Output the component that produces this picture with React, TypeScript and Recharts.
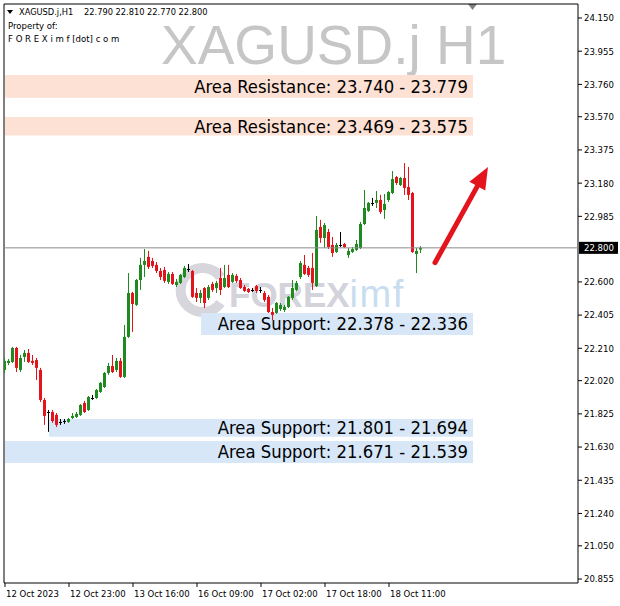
import React from 'react';
import { ComposedChart, Bar, XAxis, YAxis, ReferenceArea, ReferenceLine } from 'recharts';

// ---------- data ----------
const OPENS = [
  22.083, 22.124, 22.130, 22.212, 22.083, 22.159, 22.183, 22.136, 22.141, 22.083,
  21.907, 21.836, 21.836, 21.819, 21.778, 21.783, 21.778, 21.801, 21.807, 21.819,
  21.889, 21.848, 21.918, 21.918, 21.954, 21.983, 22.065, 22.106, 22.083, 22.136,
  22.042, 22.277, 22.535, 22.465, 22.611, 22.700, 22.747, 22.723, 22.700, 22.664,
  22.670, 22.600, 22.647, 22.582, 22.594, 22.629, 22.676, 22.664, 22.535, 22.506,
  22.564, 22.506, 22.588, 22.564, 22.623, 22.570, 22.641, 22.600, 22.635, 22.611,
  22.570, 22.559, 22.553, 22.576, 22.553, 22.535, 22.512, 22.423, 22.418, 22.441,
  22.435, 22.453, 22.506, 22.553, 22.629, 22.700, 22.682, 22.682, 22.576, 22.923,
  22.858, 22.893, 22.817, 22.776, 22.817, 22.823, 22.758, 22.776, 22.788, 22.799,
  22.940, 23.017, 23.064, 23.064, 23.081, 23.022, 23.081, 23.122, 23.216, 23.169,
  23.210, 23.157, 23.122, 22.764, 22.790,
];
const HIGHS = [
  22.153, 22.147, 22.218, 22.218, 22.171, 22.200, 22.206, 22.171, 22.153, 22.095,
  21.918, 21.848, 21.848, 21.830, 21.795, 21.795, 21.801, 21.830, 21.836, 21.883,
  21.901, 21.930, 21.936, 21.971, 22.012, 22.071, 22.124, 22.171, 22.153, 22.153,
  22.347, 22.652, 22.541, 22.617, 22.741, 22.793, 22.782, 22.741, 22.717, 22.682,
  22.688, 22.658, 22.658, 22.617, 22.647, 22.694, 22.705, 22.670, 22.564, 22.553,
  22.570, 22.582, 22.600, 22.606, 22.682, 22.700, 22.700, 22.652, 22.647, 22.623,
  22.582, 22.564, 22.564, 22.582, 22.570, 22.547, 22.523, 22.447, 22.482, 22.476,
  22.465, 22.517, 22.611, 22.606, 22.723, 22.758, 22.694, 22.770, 22.987, 22.964,
  22.946, 22.911, 22.864, 22.829, 22.893, 22.829, 22.799, 22.805, 22.846, 22.952,
  23.140, 23.069, 23.093, 23.134, 23.111, 23.116, 23.134, 23.251, 23.222, 23.216,
  23.298, 23.275, 23.128, 22.799, 22.810,
];
const LOWS = [
  22.065, 22.112, 22.124, 22.071, 22.071, 22.130, 22.124, 22.112, 22.024, 21.895,
  21.760, 21.719, 21.772, 21.748, 21.760, 21.766, 21.772, 21.795, 21.801, 21.813,
  21.830, 21.842, 21.907, 21.913, 21.948, 21.977, 22.054, 22.065, 22.071, 22.036,
  22.036, 22.271, 22.306, 22.459, 22.553, 22.629, 22.676, 22.682, 22.652, 22.611,
  22.594, 22.588, 22.582, 22.570, 22.588, 22.623, 22.658, 22.506, 22.482, 22.476,
  22.447, 22.494, 22.541, 22.535, 22.523, 22.564, 22.564, 22.594, 22.594, 22.559,
  22.541, 22.535, 22.541, 22.535, 22.535, 22.482, 22.418, 22.376, 22.412, 22.429,
  22.423, 22.447, 22.494, 22.547, 22.617, 22.641, 22.629, 22.553, 22.570, 22.829,
  22.799, 22.793, 22.747, 22.770, 22.805, 22.799, 22.741, 22.770, 22.782, 22.793,
  22.934, 23.011, 23.046, 23.034, 22.999, 22.970, 23.069, 23.116, 23.169, 23.163,
  23.111, 23.081, 22.770, 22.652, 22.770,
];
const CLOSES = [
  22.136, 22.136, 22.212, 22.095, 22.153, 22.183, 22.130, 22.124, 22.095, 21.907,
  21.813, 21.836, 21.783, 21.760, 21.778, 21.783, 21.795, 21.813, 21.825, 21.877,
  21.836, 21.924, 21.918, 21.965, 22.007, 22.065, 22.106, 22.071, 22.136, 22.042,
  22.277, 22.535, 22.470, 22.611, 22.700, 22.723, 22.688, 22.694, 22.664, 22.629,
  22.606, 22.647, 22.588, 22.600, 22.641, 22.682, 22.676, 22.512, 22.506, 22.535,
  22.476, 22.570, 22.553, 22.594, 22.553, 22.623, 22.570, 22.641, 22.606, 22.564,
  22.547, 22.541, 22.553, 22.547, 22.553, 22.494, 22.423, 22.406, 22.476, 22.465,
  22.453, 22.512, 22.564, 22.594, 22.711, 22.647, 22.641, 22.594, 22.905, 22.858,
  22.934, 22.805, 22.770, 22.817, 22.817, 22.805, 22.782, 22.793, 22.823, 22.940,
  23.034, 23.064, 23.064, 23.081, 23.011, 23.058, 23.128, 23.204, 23.181, 23.210,
  23.152, 23.111, 22.776, 22.782, 22.800,
];

const TIME_TICKS = [0, 16, 32, 48, 64, 80, 96];
const TIME_LABELS = ['12 Oct 2023', '12 Oct 23:00', '13 Oct 16:00', '16 Oct 09:00', '17 Oct 02:00', '17 Oct 18:00', '18 Oct 11:00'];
const PRICE_TICKS = [24.15, 23.955, 23.76, 23.57, 23.375, 23.18, 22.985, 22.6, 22.405, 22.21, 22.02, 21.825, 21.63, 21.435, 21.24, 21.05, 20.855];
const LAST_PRICE = 22.8;

const ZONE_LABELS = [
  'Area Resistance: 23.740 - 23.779',
  'Area Resistance: 23.469 - 23.575',
  'Area Support: 22.378 - 22.336',
  'Area Support: 21.801 - 21.694',
  'Area Support: 21.671 - 21.539',
];
const ZONE_LOW = [23.682, 23.460, 22.288, 21.690, 21.537];
const ZONE_HIGH = [23.815, 23.569, 22.418, 21.795, 21.666];
const ZONE_START = [0, 0, 49, 11, 0];
const ZONE_END = [117, 117, 117, 117, 117];
const ZONE_KIND = ['res', 'res', 'sup', 'sup', 'sup'];

const ARROW_BARS = [107.5, 120.75];
const ARROW_PRICES = [22.713, 23.275];

const X_DOMAIN = [-0.25, 143.25];
const Y_DOMAIN = [20.8316, 24.2322];

const SYMBOL = 'XAGUSD.j,H1';
const OHLC_TEXT = '22.790 22.810 22.770 22.800';
const WATERMARK = 'XAGUSD.j H1';

// ---------- styles ----------
const GREEN = '#1f8a1f';
const RED = '#e3141c';
const SMALL_FONT = "'DejaVu Sans Condensed', 'Liberation Sans', sans-serif";
const BIG_FONT = "'Liberation Sans', Arial, sans-serif";

const data = OPENS.map((o, i) => ({ i, o, h: HIGHS[i], l: LOWS[i], c: CLOSES[i], hl: [LOWS[i], HIGHS[i]] }));

function Candle(props: any) {
  const { x, y, width, height, payload } = props;
  if (x == null || y == null || !payload) return null;
  const top = Math.min(y, y + height);
  const bot = Math.max(y, y + height);
  const { o, h, l, c } = payload;
  const span = h - l;
  const py = (v: number) => (span > 0 ? top + ((h - v) / span) * (bot - top) : top);
  const cx = Math.floor(x + width / 2) + 0.5;
  const doji = Math.abs(c - o) < 0.0005;
  const color = doji ? '#000' : c > o ? GREEN : RED;
  const yo = py(o);
  const yc = py(c);
  const bt = Math.min(yo, yc);
  const bb = Math.max(yo, yc);
  return (
    <g>
      <line x1={cx} x2={cx} y1={top} y2={bot} stroke={color} strokeWidth={1} />
      {doji ? (
        <line x1={cx - 1.5} x2={cx + 1.5} y1={Math.round(yo) + 0.5} y2={Math.round(yo) + 0.5} stroke={color} strokeWidth={1} />
      ) : (
        <rect x={cx - 1.5} y={bt} width={3} height={Math.max(1, bb - bt)} fill={color} />
      )}
    </g>
  );
}

function ZoneLabel(props: any) {
  const vb = props.viewBox || {};
  return (
    <text
      x={vb.x + vb.width - 5}
      y={vb.y + vb.height / 2}
      dominantBaseline="central"
      textAnchor="end"
      fontFamily={SMALL_FONT}
      fontSize={18.3}
      fill="#000"
    >
      {props.text}
    </text>
  );
}

function PriceTag(props: any) {
  const vb = props.viewBox || {};
  const x = vb.x + vb.width + 1;
  const y = vb.y;
  return (
    <g>
      <rect x={x} y={y - 6} width={39} height={12} fill="#000" />
      <text x={x + 5} y={y} dominantBaseline="central" fontFamily={SMALL_FONT} fontSize={9.5} fill="#fff">
        {props.value.toFixed(3)}
      </text>
    </g>
  );
}

function Arrow(p: any) {
  const x1 = p.x1, y1 = p.y1, x2 = p.x2, y2 = p.y2;
  if ([x1, y1, x2, y2].some((v) => v == null || isNaN(v))) return null;
  const dx = x2 - x1;
  const dy = y2 - y1;
  const len = Math.hypot(dx, dy) || 1;
  const ux = dx / len;
  const uy = dy / len;
  const headL = 22;
  const headW = 9;
  const bx = x2 - ux * headL;
  const by = y2 - uy * headL;
  const nx = -uy;
  const ny = ux;
  return (
    <g>
      <line x1={x1} y1={y1} x2={bx + ux * 3} y2={by + uy * 3} stroke={RED} strokeWidth={5} strokeLinecap="round" />
      <polygon points={`${x2},${y2} ${bx + nx * headW},${by + ny * headW} ${bx - nx * headW},${by - ny * headW}`} fill={RED} />
    </g>
  );
}

function TimeTick(props: any) {
  const { x, y, payload } = props;
  const idx = TIME_TICKS.indexOf(payload.value);
  if (idx < 0) return null;
  return (
    <text x={x + 1} y={y} dy="0.71em" textAnchor="start" fontFamily={SMALL_FONT} fontSize={9.5} fill="#000">
      {TIME_LABELS[idx]}
    </text>
  );
}

export default function App() {
  return (
    <div style={{ position: 'absolute', left: 0, top: 0, width: 620, height: 606, background: '#fff', overflow: 'hidden' }}>
      <svg width={620} height={606} style={{ position: 'absolute', left: 0, top: 0 }}>
        <polygon points="7,10 13,10 10,14" fill="#000" />
        <text x={19} y={15} fontFamily={SMALL_FONT} fontSize={9.2} fill="#000">{SYMBOL}</text>
        <text x={84} y={15} fontFamily={SMALL_FONT} fontSize={9.2} fill="#000">{OHLC_TEXT}</text>
        <text x={8} y={29} fontFamily={SMALL_FONT} fontSize={9.5} fill="#000">Property of:</text>
        <text x={8} y={42} fontFamily={SMALL_FONT} fontSize={9.5} fill="#000">F O R E X i m f [dot] c o m</text>
        <text x={161} y={64} fontFamily={BIG_FONT} fontSize={55} fill="#c6c6c6">{WATERMARK}</text>
        <polygon points="468,4 477,4 472.5,10" fill="#808080" />
        <path d="M220.5,277.2 A22,22 0 1 0 220.5,302.8" fill="none" stroke="#d6d6dc" strokeWidth={10} />
        <text x={229} y={307} fontFamily={BIG_FONT} fontSize={35}>
          <tspan fill="#d3d3db" fontWeight="bold">FOREX</tspan>
          <tspan fill="#c8ddef" fontSize={38} letterSpacing={1.5}>imf</tspan>
        </text>
      </svg>
      <div style={{ position: 'absolute', left: 0, top: 0 }}>
        <ComposedChart width={620} height={606} data={data} margin={{ top: 4, right: 0, bottom: 0, left: 4 }}>
          <XAxis
            dataKey="i"
            type="number"
            domain={X_DOMAIN}
            allowDataOverflow
            ticks={TIME_TICKS}
            interval={0}
            tick={<TimeTick />}
            tickSize={4}
            tickMargin={3}
            tickLine={{ stroke: '#000' }}
            axisLine={false}
            height={23}
          />
          <YAxis
            orientation="right"
            type="number"
            domain={Y_DOMAIN}
            allowDataOverflow
            ticks={PRICE_TICKS}
            interval={0}
            tickFormatter={(v: number) => v.toFixed(3)}
            tick={{ fontSize: 9.5, fontFamily: SMALL_FONT, fill: '#000' }}
            tickSize={4}
            tickMargin={2}
            tickLine={{ stroke: '#000' }}
            axisLine={false}
            width={42}
          />
          {ZONE_LABELS.map((t, k) => (
            <ReferenceArea
              key={t}
              x1={ZONE_START[k]}
              x2={ZONE_END[k]}
              y1={ZONE_LOW[k]}
              y2={ZONE_HIGH[k]}
              fill={ZONE_KIND[k] === 'res' ? '#fde1d5' : '#d7e7f8'}
              fillOpacity={1}
              stroke="none"
              ifOverflow="visible"
              label={<ZoneLabel text={t} />}
            />
          ))}
          <ReferenceArea
            x1={X_DOMAIN[0]}
            x2={X_DOMAIN[1]}
            y1={Y_DOMAIN[0]}
            y2={Y_DOMAIN[1]}
            fill="none"
            stroke="#000"
            strokeWidth={1}
            ifOverflow="visible"
          />
          <ReferenceLine y={LAST_PRICE} stroke="#8c8c8c" strokeWidth={1} label={<PriceTag value={LAST_PRICE} />} />
          <Bar dataKey="hl" barSize={3} shape={<Candle />} isAnimationActive={false} />
          <ReferenceLine
            segment={[
              { x: ARROW_BARS[0], y: ARROW_PRICES[0] },
              { x: ARROW_BARS[1], y: ARROW_PRICES[1] },
            ]}
            ifOverflow="visible"
            shape={(p: any) => <Arrow {...p} />}
          />
        </ComposedChart>
      </div>
    </div>
  );
}
